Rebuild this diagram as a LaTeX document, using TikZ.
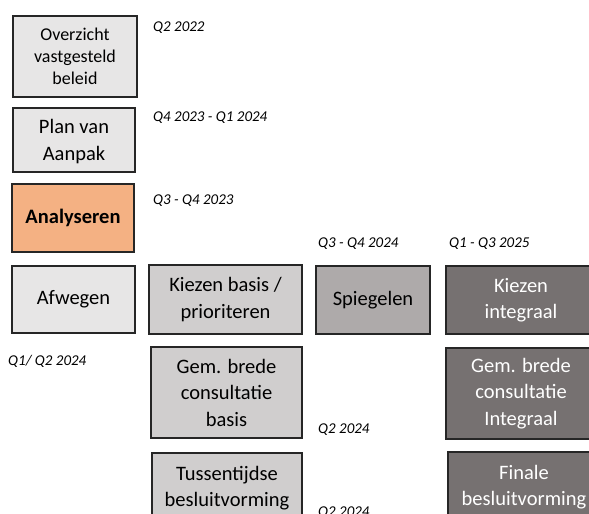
\documentclass[tikz,border=0pt]{standalone}
\usepackage{fontspec}
\setmainfont{Carlito}
\usetikzlibrary{positioning}
\definecolor{boxline}{HTML}{262626}
\definecolor{fasefill}{HTML}{E7E6E6}
\definecolor{focusfill}{HTML}{F4B183}
\definecolor{basisfill}{HTML}{D0CECE}
\definecolor{spiegelfill}{HTML}{AEAAAA}
\definecolor{integraalfill}{HTML}{767171}
\tikzset{
  fase/.style   = {rectangle, draw=boxline, fill=fasefill, line width=1.1pt,
                   align=center, font=\fontsize{20.5}{26.5}\selectfont, inner sep=2pt},
  focus/.style  = {fase, fill=focusfill, font=\fontsize{20.5}{26.5}\selectfont\bfseries},
  basis/.style  = {fase, fill=basisfill},
  spiegel/.style= {fase, fill=spiegelfill},
  integr/.style = {fase, fill=integraalfill, text=white},
  periode/.style= {anchor=base west, inner sep=0pt, font=\fontsize{15}{18}\selectfont\itshape},
}

\begin{document}
\begin{tikzpicture}[x=1pt, y=-1pt]
  \clip (0,0) rectangle (589,514);
  % linker kolom
  \node[fase, minimum width=124pt, minimum height=81pt, font=\fontsize{18}{22}\selectfont] (overzicht) at (75,56.5) {Overzicht\\vastgesteld\\beleid};
  \node[fase, minimum width=122pt, minimum height=64pt, text depth=-2pt] (plan) at (74,140) {Plan van\\Aanpak};
  \node[focus, minimum width=122pt, minimum height=68pt] (analyse) at (73,218) {Analyseren};
  \node[fase, minimum width=123pt, minimum height=67pt] (afwegen) at (73.5,299.5) {Afwegen};
  % basis
  \node[basis, minimum width=153pt, minimum height=69pt] (kiezenbasis) at (225.5,299.5) {Kiezen basis /\\prioriteren};
  \node[basis, minimum width=151pt, minimum height=91pt] (consbasis) at (226.5,392.5) {Gem. brede\\consultatie\\basis};
  \node[basis, minimum width=150pt, minimum height=70pt] (tussen) at (227,488) {Tussentijdse\\besluitvorming};
  \node[spiegel, minimum width=114pt, minimum height=68pt] (spiegelen) at (373,300) {Spiegelen};
  % integraal
  \node[integr, minimum width=150pt, minimum height=68pt] (kiezenint) at (521,300) {Kiezen\\integraal};
  \node[integr, minimum width=150pt, minimum height=91pt] (consint) at (521,393.5) {Gem. brede\\consultatie\\Integraal};
  \node[integr, minimum width=152pt, minimum height=70pt] (finale) at (524,487) {Finale\\besluitvorming};
  % perioden
  \node[periode] (p0) at (153,31) {Q2 2022};
  \node[periode] (p1) at (153,121) {Q4 2023 - Q1 2024};
  \node[periode] (p2) at (153,204) {Q3 - Q4 2023};
  \node[periode] (p3) at (318,247) {Q3 - Q4 2024};
  \node[periode] (p4) at (449,247) {Q1 - Q3 2025};
  \node[periode] (p5) at (8,365) {Q1/ Q2 2024};
  \node[periode] (p6) at (318,433) {Q2 2024};
  \node[periode] (p7) at (318,516) {Q2 2024};
\end{tikzpicture}
\end{document}
